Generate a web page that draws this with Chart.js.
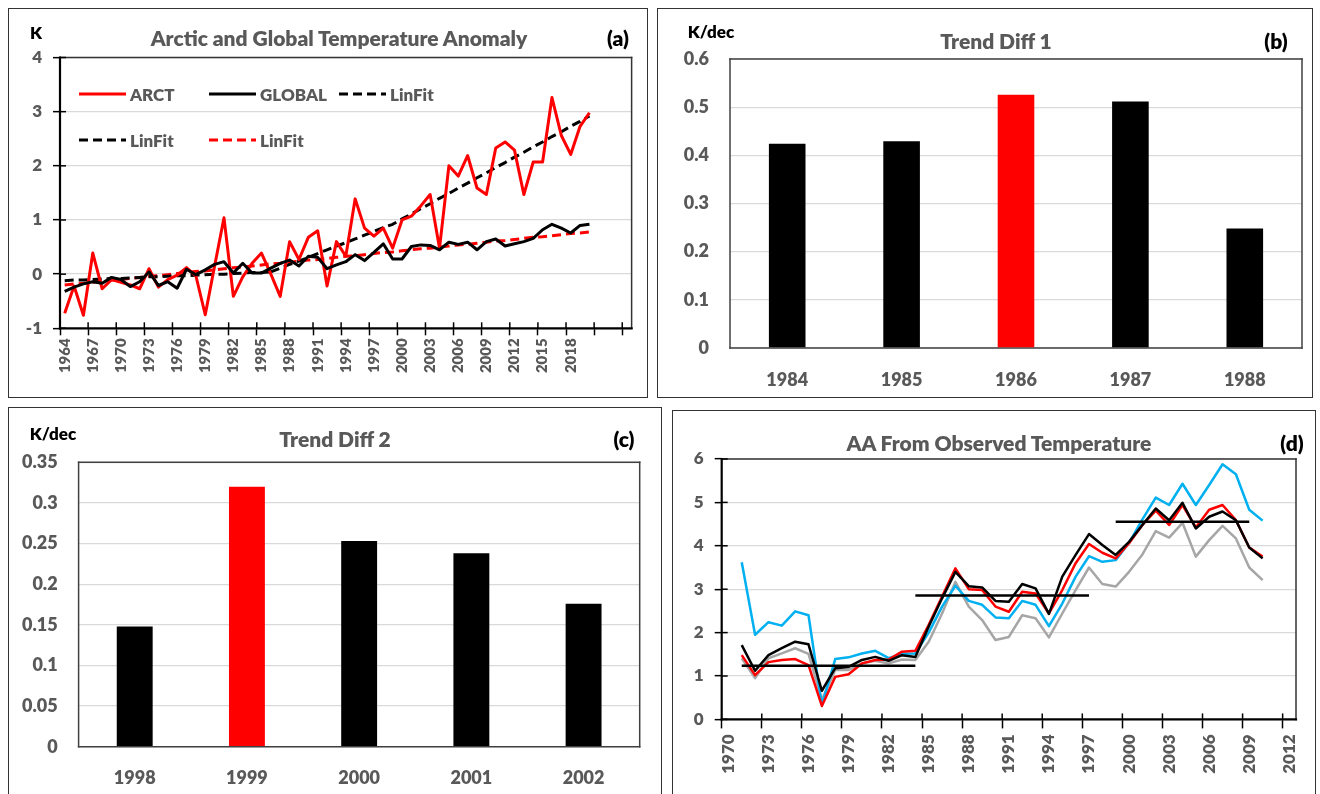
<!DOCTYPE html>
<html>
<head>
<meta charset="utf-8">
<script src="https://cdn.jsdelivr.net/npm/chart.js@4.4.1/dist/chart.umd.min.js"></script>
<style>
body{margin:0;width:1320px;height:794px;overflow:hidden;background:#fff;font-family:Lato,sans-serif;position:relative}
.panel{position:absolute}
.panel canvas{position:absolute;left:0;top:0}
.frame{position:absolute;left:0;top:0;right:0;bottom:0;border:1.5px solid #333;pointer-events:none}
.t{position:absolute;font-weight:800;white-space:nowrap;transform:translate(-50%,-50%);line-height:1}
.title{color:#595959;font-size:21px}
.tag{color:#000;font-size:21px}
.unit{color:#000;font-size:17px}
#legA{position:absolute;left:79px;top:83px;width:390px;display:flex;flex-wrap:wrap;row-gap:24px}
#legA .it{width:130px;height:22px;display:flex;align-items:center;font-weight:800;font-size:17px;color:#595959}
#legA svg{margin-right:4px}
</style>
</head>
<body>

<div class="panel" style="left:8px;top:8px;width:640px;height:390px"><canvas id="cA" width="640" height="390"></canvas><div class="frame"></div></div>
<div class="panel" style="left:657px;top:8px;width:656px;height:390px"><canvas id="cB" width="656" height="390"></canvas><div class="frame"></div></div>
<div class="panel" style="left:8px;top:407px;width:654px;height:400px"><canvas id="cC" width="654" height="400"></canvas><div class="frame"></div></div>
<div class="panel" style="left:672px;top:410px;width:644px;height:397px"><canvas id="cD" width="644" height="397"></canvas><div class="frame"></div></div>

<div class="t unit" style="left:36px;top:32px">K</div>
<div class="t title" style="left:339px;top:37px">Arctic and Global Temperature Anomaly</div>
<div class="t tag" style="left:618px;top:37px">(a)</div>
<div id="legA"></div>

<div class="t unit" style="left:711px;top:31px">K/dec</div>
<div class="t title" style="left:996px;top:40px">Trend Diff 1</div>
<div class="t tag" style="left:1276px;top:40px">(b)</div>

<div class="t unit" style="left:53px;top:433px">K/dec</div>
<div class="t title" style="left:335px;top:438px">Trend Diff 2</div>
<div class="t tag" style="left:624px;top:438px">(c)</div>

<div class="t title" style="left:999px;top:442px">AA From Observed Temperature</div>
<div class="t tag" style="left:1292px;top:442px">(d)</div>

<script>
// ---- (a) Arctic and global temperature anomaly, 1964-2020 (axis runs on to 2024)
const arcYears = ['1964','1965','1966','1967','1968','1969','1970','1971','1972','1973',
  '1974','1975','1976','1977','1978','1979','1980','1981','1982','1983',
  '1984','1985','1986','1987','1988','1989','1990','1991','1992','1993',
  '1994','1995','1996','1997','1998','1999','2000','2001','2002','2003',
  '2004','2005','2006','2007','2008','2009','2010','2011','2012','2013',
  '2014','2015','2016','2017','2018','2019','2020','','','',''];
const arct = [-0.72,-0.22,-0.76,0.39,-0.27,-0.10,-0.15,-0.20,-0.27,0.10,
  -0.24,-0.10,-0.02,0.12,-0.03,-0.75,0.15,1.04,-0.41,-0.05,
  0.20,0.39,0.00,-0.41,0.60,0.27,0.68,0.80,-0.22,0.60,
  0.33,1.39,0.85,0.70,0.85,0.48,1.00,1.07,1.26,1.47,
  0.48,2.00,1.81,2.19,1.59,1.47,2.33,2.44,2.29,1.47,
  2.07,2.07,3.26,2.56,2.21,2.73,2.98];
const global = [-0.32,-0.24,-0.18,-0.14,-0.17,-0.06,-0.10,-0.23,-0.14,0.04,
  -0.21,-0.14,-0.26,0.09,-0.01,0.08,0.18,0.23,0.02,0.20,
  0.02,0.02,0.11,0.20,0.26,0.15,0.33,0.31,0.10,0.17,
  0.23,0.36,0.25,0.40,0.56,0.28,0.28,0.51,0.54,0.53,
  0.45,0.59,0.55,0.59,0.45,0.60,0.65,0.52,0.56,0.60,
  0.66,0.82,0.92,0.85,0.76,0.90,0.92];
// ARCT fit in two pieces, 1964-1986 and 1986-2020 (null outside each piece)
const arctFitEarly = [-0.12,-0.11,-0.11,-0.10,-0.09,-0.08,-0.08,-0.07,-0.06,-0.05,
  -0.05,-0.04,-0.03,-0.03,-0.02,-0.01,0.00,0.00,0.01,0.02,
  0.03,0.03,0.04];
const arctFitLate = [null,null,null,null,null,null,null,null,null,null,
  null,null,null,null,null,null,null,null,null,null,
  null,null,0.04,0.11,0.18,0.24,0.31,0.38,0.45,0.52,
  0.58,0.65,0.72,0.79,0.86,0.92,1.02,1.11,1.21,1.30,
  1.40,1.49,1.59,1.68,1.78,1.87,1.97,2.06,2.16,2.25,
  2.35,2.44,2.54,2.63,2.73,2.82,2.92];
const globalFit = [-0.20,-0.18,-0.17,-0.15,-0.13,-0.11,-0.10,-0.08,-0.06,-0.04,
  -0.03,-0.01,0.01,0.03,0.05,0.06,0.08,0.10,0.12,0.13,
  0.15,0.17,0.19,0.20,0.22,0.24,0.26,0.27,0.29,0.31,
  0.33,0.34,0.36,0.38,0.40,0.41,0.43,0.45,0.47,0.48,
  0.50,0.52,0.54,0.55,0.57,0.59,0.61,0.62,0.64,0.66,
  0.68,0.69,0.71,0.73,0.75,0.76,0.78];

// ---- (b), (c) trend differences
const diff1Years = ['1984','1985','1986','1987','1988'];
const diff1 = [0.424,0.429,0.526,0.512,0.248];
const diff1Peak = '1986';
const diff2Years = ['1998','1999','2000','2001','2002'];
const diff2 = [0.148,0.320,0.253,0.238,0.176];
const diff2Peak = '1999';

// ---- (d) AA from observed temperature, values for 1971-2010
const aaAxis = ['1970','1971','1972','1973','1974','1975','1976','1977','1978','1979',
  '1980','1981','1982','1983','1984','1985','1986','1987','1988','1989',
  '1990','1991','1992','1993','1994','1995','1996','1997','1998','1999',
  '2000','2001','2002','2003','2004','2005','2006','2007','2008','2009',
  '2010','2011','2012'];
const aaYears = aaAxis.slice(1, 41);
const aaBlue = [3.62,1.95,2.24,2.16,2.49,2.40,0.33,1.39,1.43,1.52,
  1.58,1.41,1.51,1.52,2.00,2.60,3.08,2.73,2.64,2.35,
  2.33,2.73,2.64,2.15,2.67,3.29,3.76,3.63,3.67,4.07,
  4.61,5.11,4.94,5.43,4.94,5.40,5.88,5.65,4.83,4.58];
const aaRed = [1.48,1.02,1.32,1.37,1.39,1.25,0.31,0.98,1.04,1.29,
  1.37,1.38,1.56,1.58,2.18,2.83,3.48,3.00,2.98,2.60,
  2.48,2.94,2.90,2.44,2.98,3.60,4.04,3.84,3.71,4.06,
  4.48,4.81,4.48,4.94,4.42,4.83,4.94,4.59,3.96,3.75];
const aaBlack = [1.71,1.12,1.48,1.64,1.79,1.73,0.66,1.18,1.21,1.37,
  1.44,1.35,1.48,1.44,2.14,2.79,3.40,3.07,3.04,2.73,
  2.71,3.12,3.02,2.43,3.29,3.79,4.27,4.02,3.79,4.09,
  4.48,4.86,4.59,4.99,4.40,4.67,4.79,4.59,3.96,3.71];
const aaGray = [1.41,0.95,1.41,1.52,1.64,1.51,0.45,1.14,1.14,1.29,
  1.35,1.29,1.38,1.37,1.79,2.44,3.17,2.60,2.29,1.83,
  1.90,2.40,2.33,1.89,2.44,2.98,3.50,3.12,3.06,3.40,
  3.80,4.34,4.19,4.53,3.75,4.13,4.46,4.17,3.50,3.21];
const segStart = ['1971','1984','1999'];
const segEnd = ['1984','1997','2009'];
const segLevel = [1.235,2.857,4.555];

Chart.defaults.font.family = 'Lato, sans-serif';
Chart.defaults.font.weight = 800;
Chart.defaults.color = '#595959';
Chart.defaults.animation = false;
Chart.defaults.plugins.legend.display = false;
Chart.defaults.plugins.tooltip.enabled = false;

const bold = size => ({family: 'Lato, sans-serif', size: size, weight: 800});

// plot box + inner half of the crossing tick marks
const frame = {
  id: 'frame',
  beforeDatasetsDraw(chart, args, o) {
    const a = chart.chartArea, c = chart.ctx;
    const seg = (x1, y1, x2, y2, col, w) => {
      c.strokeStyle = col; c.lineWidth = w;
      c.beginPath(); c.moveTo(x1, y1); c.lineTo(x2, y2); c.stroke();
    };
    c.save();
    c.lineCap = 'square';
    seg(a.left, a.top, a.right, a.top, o.box, o.boxWidth);
    seg(a.right, a.top, a.right, a.bottom, o.box, o.boxWidth);
    seg(a.left, a.top, a.left, a.bottom, o.axis, o.axisWidth);
    seg(a.left, a.bottom, a.right, a.bottom, o.axis, o.axisWidth);
    c.lineCap = 'butt';
    if (o.cross) {
      const xs = chart.scales.x, ys = chart.scales.y;
      ys.ticks.forEach((t, i) => {
        const p = ys.getPixelForTick(i);
        seg(a.left, p, a.left + o.cross, p, o.axis, 1.5);
      });
      const half = (xs.getPixelForTick(1) - xs.getPixelForTick(0)) / 2;
      for (let i = 3; i < xs.ticks.length; i += 3) {
        const p = xs.getPixelForTick(i) - half;
        seg(p, a.bottom, p, a.bottom - o.cross, o.axis, 1.5);
      }
    }
    c.restore();
  }
};

const every3 = c => c.index % 3 === 0 ? '#000' : 'rgba(0,0,0,0)';
const dec = v => String(+v.toFixed(2));

// ---------- (a)
const chartA = new Chart(document.getElementById('cA'), {
  type: 'line',
  data: {
    labels: arcYears,
    datasets: [
      {label: 'ARCT', data: arct, borderColor: '#ff0000', borderWidth: 3, order: 1},
      {label: 'GLOBAL', data: global, borderColor: '#000', borderWidth: 3, order: 0},
      {label: 'LinFit', data: arctFitEarly, borderColor: '#000', borderWidth: 3, borderDash: [9, 5], order: 2},
      {label: 'LinFit', data: arctFitLate, borderColor: '#000', borderWidth: 3, borderDash: [9, 5], order: 2},
      {label: 'LinFit', data: globalFit, borderColor: '#ff0000', borderWidth: 3, borderDash: [9, 5], order: 3}
    ]
  },
  options: {
    responsive: false, devicePixelRatio: 1,
    elements: {point: {radius: 0}, line: {tension: 0, borderJoinStyle: 'round'}},
    layout: {padding: {left: 0, top: 49.5, right: 8, bottom: 0}},
    scales: {
      x: {
        offset: true,
        grid: {offset: true, drawOnChartArea: false, tickLength: 7, tickWidth: 1.5, tickColor: every3},
        border: {display: false},
        ticks: {autoSkip: false, minRotation: 90, maxRotation: 90, padding: 3, font: bold(15),
                callback: (v, i) => i % 3 === 0 ? arcYears[i] : ''},
        afterFit: s => { s.height = 69.7; }
      },
      y: {
        min: -1, max: 4,
        ticks: {stepSize: 1, padding: 11, font: bold(17)},
        grid: {color: '#d9d9d9', lineWidth: 1.3, tickColor: '#000', tickLength: 7, tickWidth: 1.5},
        border: {display: false},
        afterFit: s => { s.width = 52; }
      }
    },
    plugins: {frame: {box: '#333', boxWidth: 1.5, axis: '#000', axisWidth: 2.2, cross: 6}}
  },
  plugins: [frame]
});

// legend for (a), placed inside the plot like the original
const legA = document.getElementById('legA');
chartA.data.datasets.forEach(ds => {
  const dash = ds.borderDash ? 'stroke-dasharray="9,5"' : '';
  const it = document.createElement('div');
  it.className = 'it';
  it.innerHTML = '<svg width="47" height="4"><line x1="0" y1="2" x2="47" y2="2" stroke="' +
    ds.borderColor + '" stroke-width="3" ' + dash + '/></svg>' + ds.label;
  legA.appendChild(it);
});

// ---------- (b) and (c)
function barPanel(id, years, vals, peak, max, step, pad, xh, yw) {
  return new Chart(document.getElementById(id), {
    type: 'bar',
    data: {
      labels: years,
      datasets: [{
        data: vals,
        backgroundColor: years.map(y => y === peak ? '#ff0000' : '#000'),
        barPercentage: 0.32, categoryPercentage: 1
      }]
    },
    options: {
      responsive: false, devicePixelRatio: 1,
      layout: {padding: pad},
      scales: {
        x: {
          grid: {display: false}, border: {display: false},
          ticks: {padding: 13, font: bold(18)},
          afterFit: s => { s.height = xh; }
        },
        y: {
          min: 0, max: max,
          ticks: {stepSize: step, padding: 21, font: bold(18), callback: dec},
          grid: {color: '#d9d9d9', lineWidth: 1.3, drawTicks: false},
          border: {display: false},
          afterFit: s => { s.width = yw; }
        }
      },
      plugins: {frame: {box: '#404040', boxWidth: 1.5, axis: '#404040', axisWidth: 1.5}}
    },
    plugins: [frame]
  });
}
barPanel('cB', diff1Years, diff1, diff1Peak, 0.6, 0.1, {left: 0, top: 51, right: 11, bottom: 0}, 50, 73);
barPanel('cC', diff2Years, diff2, diff2Peak, 0.35, 0.05, {left: 0, top: 55.3, right: 22.3, bottom: 0}, 60.3, 70.6);

// ---------- (d)
const pts = vals => vals.map((v, i) => ({x: aaYears[i], y: v}));
const segDatasets = segLevel.map((lv, i) => ({
  data: [{x: segStart[i], y: lv}, {x: segEnd[i], y: lv}],
  borderColor: '#000', borderWidth: 2.5, order: -1
}));
new Chart(document.getElementById('cD'), {
  type: 'line',
  data: {
    labels: aaAxis,
    datasets: [
      {data: pts(aaGray), borderColor: '#a6a6a6', borderWidth: 2.5, order: 3},
      {data: pts(aaBlue), borderColor: '#00b0f0', borderWidth: 2.5, order: 2},
      {data: pts(aaRed), borderColor: '#ff0000', borderWidth: 2.5, order: 1},
      {data: pts(aaBlack), borderColor: '#000', borderWidth: 2.5, order: 0}
    ].concat(segDatasets)
  },
  options: {
    responsive: false, devicePixelRatio: 1,
    elements: {point: {radius: 0}, line: {tension: 0, borderJoinStyle: 'round'}},
    layout: {padding: {left: 0, top: 49, right: 20, bottom: 0}},
    scales: {
      x: {
        offset: true,
        grid: {offset: true, drawOnChartArea: false, tickLength: 9, tickWidth: 1.5, tickColor: every3},
        border: {display: false},
        ticks: {autoSkip: false, minRotation: 90, maxRotation: 90, padding: 6, font: bold(17),
                callback: (v, i) => i % 3 === 0 ? aaAxis[i] : ''},
        afterFit: s => { s.height = 87.6; }
      },
      y: {
        min: 0, max: 6,
        ticks: {stepSize: 1, padding: 11, font: bold(17)},
        grid: {color: '#d9d9d9', lineWidth: 1.3, tickColor: '#000', tickLength: 7, tickWidth: 1.5},
        border: {display: false},
        afterFit: s => { s.width = 49.7; }
      }
    },
    plugins: {frame: {box: '#333', boxWidth: 1.5, axis: '#000', axisWidth: 2.2, cross: 6}}
  },
  plugins: [frame]
});
</script>
</body>
</html>
